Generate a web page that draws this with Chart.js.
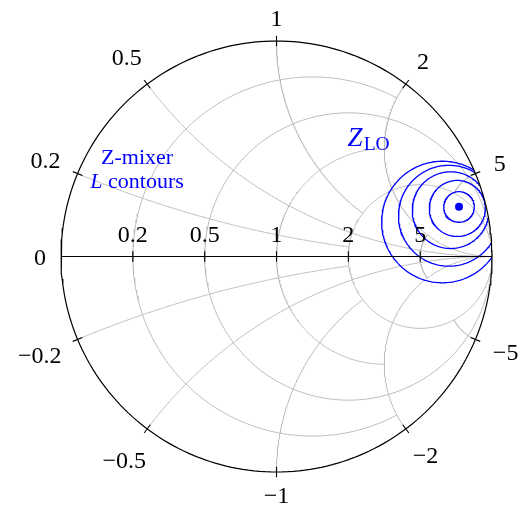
<!DOCTYPE html>
<html>
<head>
<meta charset="utf-8">
<script src="https://cdn.jsdelivr.net/npm/chart.js@4/dist/chart.umd.min.js"></script>
<style>
  html, body { margin: 0; padding: 0; background: #fff; overflow: hidden; }
  canvas { display: block; }
</style>
</head>
<body>
<canvas id="smith" width="527" height="508"></canvas>
<script>
// grid values of the Smith chart (normalised impedance z = r + jx)
const resistTicks = [0.2, 0.5, 1, 2, 5];
const reactTicks = [0.2, 0.5, 1, 2, 5];
const resistLabels = ['0.2', '0.5', '1', '2', '5'];
const reactLabels = ['0.2', '0.5', '1', '2', '5'];
const throughLines = [0.5, 2];   // these grid lines run all the way to the right
const stopValue = 2;             // the others end where they meet the "2" line

const contourCx = [0.847, 0.839, 0.808, 0.800, 0.770];
const contourCy = [0.230, 0.223, 0.215, 0.189, 0.160];
const contourR = [0.071, 0.130, 0.178, 0.234, 0.282];
const zLO = [{ x: 0.847, y: 0.231 }];

const GRID = '#bcbcbc', BLUE = '#0000ff';
const N = 240;

// z -> reflection coefficient
function gamma(r, x) {
  const d = (r + 1) * (r + 1) + x * x;
  return { x: (r * r + x * x - 1) / d, y: 2 * x / d };
}

function arc(cx, cy, rad, a0, a1) {
  const pts = [];
  for (let i = 0; i <= N; i++) {
    const a = a0 + (a1 - a0) * i / N;
    pts.push({ x: cx + rad * Math.cos(a), y: cy + rad * Math.sin(a) });
  }
  return pts;
}

function resistArc(r) {
  const c = r / (r + 1), rad = 1 / (r + 1);
  if (throughLines.includes(r)) return arc(c, 0, rad, 0, 2 * Math.PI);
  const g = gamma(r, stopValue);
  const t0 = Math.atan2(g.y, g.x - c);
  return arc(c, 0, rad, t0, 2 * Math.PI - t0);
}

function reactArc(x) {
  const cy = 1 / x, rad = Math.abs(1 / x);
  const g0 = gamma(0, x);
  const g1 = throughLines.includes(Math.abs(x)) ? { x: 1, y: 0 } : gamma(stopValue, x);
  const a0 = Math.atan2(g0.y - cy, g0.x - 1);
  let da = Math.atan2(g1.y - cy, g1.x - 1) - a0;
  while (da > Math.PI) da -= 2 * Math.PI;
  while (da < -Math.PI) da += 2 * Math.PI;
  return arc(1, cy, rad, a0, a0 + da);
}

const line = (data, color, width, order, extra) => Object.assign({
  data, borderColor: color, borderWidth: width, showLine: true,
  pointRadius: 0, fill: false, tension: 0, clip: false, order
}, extra || {});

const datasets = [];
resistTicks.forEach(r => datasets.push(line(resistArc(r), GRID, 1, 6)));
reactTicks.forEach(x => {
  datasets.push(line(reactArc(x), GRID, 1, 6));
  datasets.push(line(reactArc(-x), GRID, 1, 6));
});

// rim, real axis and ticks
datasets.push(line(arc(0, 0, 1, 0, 2 * Math.PI), '#000', 1.2, 1));
datasets.push(line([{ x: -1, y: 0 }, { x: 1, y: 0 }], '#000', 1.1, 1));
const tk = 0.024;
resistTicks.forEach(r => {
  const g = gamma(r, 0);
  datasets.push(line([{ x: g.x, y: -tk }, { x: g.x, y: tk }], '#000', 1.1, 1));
});
reactTicks.concat(reactTicks.map(v => -v)).forEach(v => {
  const g = gamma(0, v);
  datasets.push(line([{ x: g.x * (1 - tk), y: g.y * (1 - tk) }, { x: g.x * (1 + tk), y: g.y * (1 + tk) }], '#000', 1.1, 1));
});

// contours, clipped to the unit disk
contourR.forEach((rad, i) => {
  datasets.push(line(arc(contourCx[i], contourCy[i], rad, 0, 2 * Math.PI), BLUE, 1.3, 3, { clipDisk: true }));
});
datasets.push({ data: zLO, pointRadius: 4, pointBackgroundColor: BLUE, pointBorderWidth: 0, showLine: false, clip: false, order: 0 });

const diskClip = {
  id: 'diskClip',
  beforeDatasetDraw(chart, args) {
    if (!chart.data.datasets[args.index].clipDisk) return;
    const sx = chart.scales.x, sy = chart.scales.y, ctx = chart.ctx;
    ctx.save();
    ctx.beginPath();
    ctx.arc(sx.getPixelForValue(0), sy.getPixelForValue(0), sx.getPixelForValue(1) - sx.getPixelForValue(0), 0, 2 * Math.PI);
    ctx.clip();
  },
  afterDatasetDraw(chart, args) {
    if (chart.data.datasets[args.index].clipDisk) chart.ctx.restore();
  }
};

const labels = {
  id: 'labels',
  afterDatasetsDraw(chart) {
    const ctx = chart.ctx, sx = chart.scales.x, sy = chart.scales.y;
    const px = v => sx.getPixelForValue(v), py = v => sy.getPixelForValue(v);
    const digitH = 16;
    ctx.save();
    ctx.fillStyle = '#000';
    ctx.font = '24px "Liberation Serif"';
    ctx.textAlign = 'center';
    ctx.textBaseline = 'alphabetic';
    resistTicks.forEach((r, i) => {
      const g = gamma(r, 0);
      ctx.fillText(resistLabels[i], px(g.x), py(0) - 15);
    });
    const rim = [[0, '0']]
      .concat(reactTicks.map((v, i) => [v, reactLabels[i]]))
      .concat(reactTicks.map((v, i) => [-v, '\u2212' + reactLabels[i]]));
    rim.forEach(([v, txt]) => {
      const g = gamma(0, v);
      const ux = g.x, uy = -g.y;
      const w = ctx.measureText(txt).width;
      const ext = (Math.abs(ux) * w + Math.abs(uy) * digitH) / 2;
      const d = ext + 15 + 4 * Math.abs(Math.sin(2 * Math.atan2(g.y, g.x)));
      ctx.fillText(txt, px(g.x) + ux * d, py(g.y) + uy * d + digitH / 2);
    });

    // annotations
    ctx.fillStyle = BLUE;
    ctx.font = '22px "Liberation Serif"';
    ctx.fillText('Z-mixer', px(-0.647), py(0.427));
    const rest = ' contours';
    ctx.font = 'italic 22px "Liberation Serif"';
    const wL = ctx.measureText('L').width;
    ctx.font = '22px "Liberation Serif"';
    const wR = ctx.measureText(rest).width;
    const x0 = px(-0.647) - (wL + wR) / 2;
    ctx.textAlign = 'left';
    ctx.font = 'italic 22px "Liberation Serif"';
    ctx.fillText('L', x0, py(0.320));
    ctx.font = '22px "Liberation Serif"';
    ctx.fillText(rest, x0 + wL, py(0.320));

    const zx = px(0.330), zy = py(0.513);
    ctx.font = 'italic 27px "Liberation Serif"';
    ctx.fillText('Z', zx, zy);
    const wZ = ctx.measureText('Z').width;
    ctx.font = '19.5px "Liberation Serif"';
    ctx.fillText('LO', zx + wZ + 1, zy + 4);
    ctx.restore();
  }
};

new Chart(document.getElementById('smith'), {
  type: 'scatter',
  data: { datasets },
  options: {
    responsive: false,
    animation: false,
    events: [],
    layout: { padding: { left: 61, right: 35, top: 41, bottom: 36 } },
    scales: {
      x: { type: 'linear', min: -1, max: 1, display: false },
      y: { type: 'linear', min: -1, max: 1, display: false }
    },
    plugins: { legend: { display: false }, tooltip: { enabled: false } }
  },
  plugins: [diskClip, labels]
});
</script>
</body>
</html>
